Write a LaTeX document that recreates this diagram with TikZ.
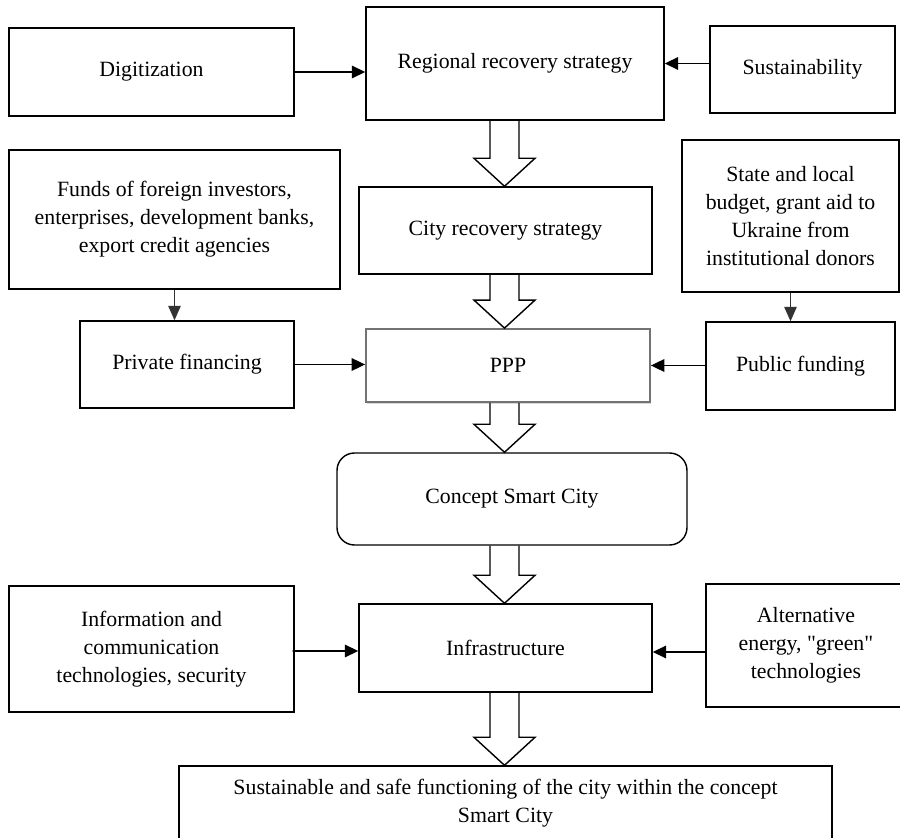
\documentclass[tikz,border=0pt]{standalone}
\usepackage{fontspec}
\setmainfont{Liberation Serif}[Ligatures=TeXOff]
\usetikzlibrary{arrows.meta,calc,shadows}

\tikzset{
  box/.style={draw, line width=0.8pt, align=center, inner sep=2pt,
    font=\fontsize{12.4}{15.9}\selectfont},
  pppbox/.style={box, fill=white, draw=black!55, line width=1pt,
    drop shadow={opacity=0.3, shadow xshift=0.7pt, shadow yshift=-0.9pt}},
  roundbox/.style={box, rounded corners=0.35cm},
  link/.style={line width=1pt, -{Triangle[length=2.7mm,width=2.5mm]}},
  feed/.style={line width=0.7pt, draw=black!80, -{Triangle[length=2.9mm,width=2.5mm]}},
  hollow/.style={draw, line width=0.8pt, line join=miter},
}

% block arrow down the middle axis, from #1 to #2
\newcommand{\hollowarrow}[2]{%
  \draw[hollow] ($(spine |- #1.south)+(-0.29,0)$) -- ($(spine |- #2.north)+(-0.29,0.56)$)
    -- ($(spine |- #2.north)+(-0.61,0.56)$) -- (spine |- #2.north)
    -- ($(spine |- #2.north)+(0.61,0.56)$) -- ($(spine |- #2.north)+(0.29,0.56)$)
    -- ($(spine |- #1.south)+(0.29,0)$);}

\begin{document}
\begin{tikzpicture}
\useasboundingbox (0,0) rectangle (18,16.76);
\coordinate (spine) at (10.09,0);

\node[box, minimum width=5.70cm, minimum height=1.76cm] (digit) at (3.03,15.32) {Digitization}; % top left
\node[box, minimum width=5.96cm, minimum height=2.26cm] (region) at (10.30,15.49) {Regional recovery strategy};
\node[box, minimum width=3.70cm, minimum height=1.74cm] (sustain) at (16.05,15.37) {Sustainability};
\node[box, minimum width=6.62cm, minimum height=2.78cm] (funds) at (3.49,12.37) {Funds of foreign investors,\\ enterprises, development banks,\\ export credit agencies};
\node[box, minimum width=5.86cm, minimum height=1.74cm] (city) at (10.11,12.15) {City recovery strategy};
\node[box, minimum width=4.34cm, minimum height=3.04cm] (budget) at (15.81,12.44) {State and local\\ budget, grant aid to\\ Ukraine from\\ institutional donors};
\node[box, minimum width=4.28cm, minimum height=1.74cm] (private) at (3.74,9.47) {Private financing};
\node[pppbox, minimum width=5.68cm, minimum height=1.46cm] (ppp) at (10.16,9.45) {PPP};
\node[box, minimum width=3.78cm, minimum height=1.76cm] (public) at (16.01,9.44) {Public funding};
\node[roundbox, minimum width=7.00cm, minimum height=1.84cm] (concept) at (10.24,6.78) {Concept Smart City};
\node[box, minimum width=5.70cm, minimum height=2.52cm] (ict) at (3.03,3.78) {Information and\\ communication\\ technologies, security};
\node[box, minimum width=5.86cm, minimum height=1.76cm] (infra) at (10.11,3.80) {Infrastructure};
\node[box, minimum width=4.00cm, minimum height=2.46cm] (green) at (16.12,3.85) {Alternative\\ energy, "green"\\ technologies};
\node[box, minimum width=13.06cm, minimum height=1.48cm] (goal) at (10.11,0.70) {Sustainable and safe functioning of the city within the concept\\ Smart City}; % bottom

% side inputs
\draw[link] (digit.east) -- (digit.east -| region.west);
\draw[link] (sustain.west |- region.east) -- (region.east);
\draw[feed] (funds.south) -- (funds.south |- private.north);
\draw[feed] (budget.south) -- (budget.south |- public.north);
\draw[link] (private.east) -- (private.east -| ppp.west);
\draw[link] (public.west |- ppp.east) -- (ppp.east);
\draw[link] ($(ict.east)+(-0.04,-0.04)$) -- ($(infra.west)+(0,-0.06)$);
\draw[link] ($(green.west)+(0,-0.13)$) -- ($(infra.east)+(0,-0.08)$);

% main flow
\hollowarrow{region}{city}
\hollowarrow{city}{ppp}
\hollowarrow{ppp}{concept}
\hollowarrow{concept}{infra}
\hollowarrow{infra}{goal}

\end{tikzpicture}
\end{document}
